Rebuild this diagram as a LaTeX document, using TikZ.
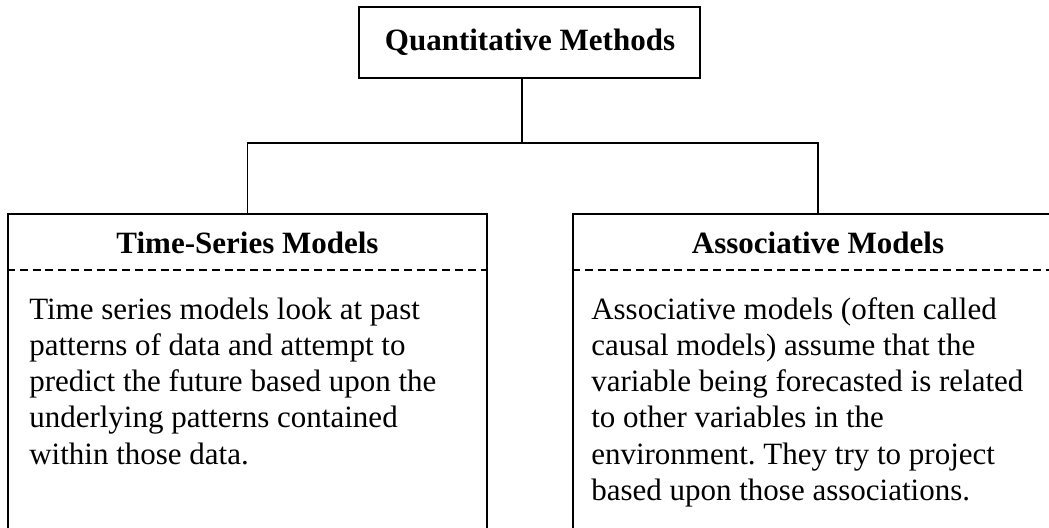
\documentclass[tikz,border=0pt]{standalone}
\usepackage{fontspec}
\setmainfont{Liberation Serif}
\frenchspacing
\begin{document}
\begin{tikzpicture}[x=0.75pt,y=-0.75pt,
  box/.style={draw, line width=1.4pt, rectangle, inner sep=0pt},
  conn/.style={line width=1.4pt},
  sep/.style={line width=1.3pt, dash pattern=on 6pt off 3.6pt},
  ttl/.style={font=\fontsize{23.25}{27.2}\selectfont\bfseries, inner sep=0pt},
  body/.style={font=\fontsize{23.25}{27.2}\selectfont, inner sep=0pt, anchor=base west}]
\useasboundingbox (0,0) rectangle (1049,528);
\clip (0,0) rectangle (1049,528);
\fill[white] (0,0) rectangle (1049,528);
% boxes
\node[box, minimum width=255.75pt, minimum height=53.25pt] (top) at (529.5,42.5) {};
\node[box, minimum width=359.25pt, minimum height=244.5pt] (lb) at (247.5,377) {};
\node[box, minimum width=367.5pt, minimum height=244.5pt] (rb) at (818,377) {};
% titles
\node[ttl] (toptxt) at (530,42) {Quantitative Methods};
\node[ttl] (ltitle) at (247.5,243) {Time-Series Models};
\node[ttl] (rtitle) at (818,243) {Associative Models};
% dashed separators
\coordinate (dy) at (0,270);
\draw[sep] (lb.west |- dy) -- (lb.east |- dy);
\draw[sep] (rb.west |- dy) -- (rb.east |- dy);
% connectors
\coordinate (j) at (522,143);
\draw[conn] (top.south -| j) -- (j);
\draw[conn] (lb.north) -- (lb.north |- j) -- (rb.north |- j) -- (rb.north);
% body text
\node[body] (ltext) at (29,319) {\parbox[t]{330pt}{\raggedright Time series models look at past\\patterns of data and attempt to\\predict the future based upon the\\underlying patterns contained\\within those data.}};
\node[body] (rtext) at (591,319) {\parbox[t]{330pt}{\raggedright Associative models (often called\\causal models) assume that the\\variable being forecasted is related\\to other variables in the\\environment. They try to project\\based upon those associations.}};
\end{tikzpicture}
\end{document}
